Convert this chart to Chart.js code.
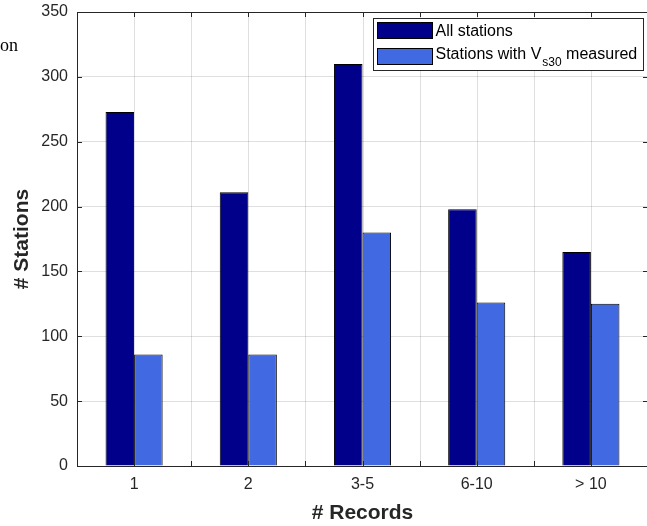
<!DOCTYPE html>
<html>
<head>
<meta charset="utf-8">
<script src="https://cdn.jsdelivr.net/npm/chart.js@4"></script>
<style>
  html, body { margin: 0; padding: 0; background: #fff; overflow: hidden; }
  #wrap { position: relative; width: 660px; height: 526px; }
</style>
</head>
<body>
<div id="wrap"><canvas id="chart" width="660" height="526"></canvas></div>
<script>
// data
const categories = ['1', '2', '3-5', '6-10', '> 10'];
const allStations = [273, 211, 310, 198, 165];
const vs30Stations = [86, 86, 180, 126, 125];
const yMin = 0;
const yMax = 350;
const yStep = 50;

const axisColor = '#262626';
const gridColor = 'rgba(38, 38, 38, 0.15)';
const tickFont = { family: 'Arial, "Liberation Sans", sans-serif', size: 16 };

// MATLAB-style box, inward ticks, extra grid lines, legend and axis titles
const matlabFrame = {
  id: 'matlabFrame',
  beforeDatasetsDraw(chart) {
    const { ctx, chartArea: a, scales: { x } } = chart;
    ctx.save();
    ctx.strokeStyle = gridColor;
    ctx.lineWidth = 1;
    xTickPositions(x).forEach(px => {
      ctx.beginPath();
      ctx.moveTo(Math.round(px) + 0.5, a.top);
      ctx.lineTo(Math.round(px) + 0.5, a.bottom);
      ctx.stroke();
    });
    ctx.restore();
  },
  afterDatasetsDraw(chart) {
    const { ctx, chartArea: a, scales: { x, y } } = chart;
    const tl = 5;
    ctx.save();
    ctx.strokeStyle = axisColor;
    ctx.lineWidth = 1;
    ctx.strokeRect(a.left + 0.5, a.top + 0.5, a.right - a.left, a.bottom - a.top);

    // inward tick marks
    ctx.beginPath();
    for (let v = yMin; v <= yMax; v += yStep) {
      const py = Math.round(y.getPixelForValue(v)) + 0.5;
      ctx.moveTo(a.left, py); ctx.lineTo(a.left + tl, py);
      ctx.moveTo(a.right, py); ctx.lineTo(a.right - tl, py);
    }
    xTickPositions(x).forEach(px => {
      const p = Math.round(px) + 0.5;
      ctx.moveTo(p, a.bottom); ctx.lineTo(p, a.bottom - tl);
      ctx.moveTo(p, a.top); ctx.lineTo(p, a.top + tl);
    });
    ctx.stroke();

    // legend
    const lx = 373.5, ly = 18.5;
    ctx.fillStyle = '#fff';
    ctx.fillRect(lx, ly, 270, 52);
    ctx.strokeRect(lx, ly, 270, 52);
    const ds = chart.data.datasets;
    const rows = [ly + 4, ly + 30];
    ctx.textBaseline = 'middle';
    ctx.textAlign = 'left';
    rows.forEach((ry, i) => {
      ctx.fillStyle = ds[i].backgroundColor;
      ctx.fillRect(lx + 4, ry, 55, 16);
      ctx.strokeStyle = '#000';
      ctx.strokeRect(lx + 4, ry, 55, 16);
    });
    ctx.fillStyle = '#000';
    ctx.font = '16px Arial, "Liberation Sans", sans-serif';
    ctx.fillText('All stations', lx + 62, rows[0] + 9);
    let tx = lx + 62;
    const part1 = 'Stations with V';
    ctx.fillText(part1, tx, rows[1] + 6);
    tx += ctx.measureText(part1).width + 1;
    ctx.font = '12px Arial, "Liberation Sans", sans-serif';
    ctx.fillText('s30', tx, rows[1] + 14);
    tx += ctx.measureText('s30').width;
    ctx.font = '16px Arial, "Liberation Sans", sans-serif';
    ctx.fillText(' measured', tx, rows[1] + 6);

    // axis titles
    ctx.fillStyle = axisColor;
    ctx.font = 'bold 21px Arial, "Liberation Sans", sans-serif';
    ctx.textAlign = 'center';
    ctx.fillText('# Records', (a.left + a.right) / 2, 513);
    ctx.save();
    ctx.translate(22, (a.top + a.bottom) / 2);
    ctx.rotate(-Math.PI / 2);
    ctx.fillText('# Stations', 0, 0);
    ctx.restore();

    // clipped fragment of neighbouring text in the source figure
    ctx.fillStyle = '#000';
    ctx.textAlign = 'left';
    ctx.textBaseline = 'alphabetic';
    ctx.font = '18px "Times New Roman", "Liberation Serif", serif';
    ctx.fillText('on', 0, 51);
    ctx.restore();
  }
};

function xTickPositions(x) {
  const out = [];
  categories.forEach((c, i) => {
    const px = x.getPixelForValue(i);
    out.push(px);
    if (i > 0) out.push((px + x.getPixelForValue(i - 1)) / 2);
  });
  return out;
}

new Chart(document.getElementById('chart'), {
  type: 'bar',
  data: {
    labels: categories,
    datasets: [
      {
        label: 'All stations',
        data: allStations,
        backgroundColor: '#00008B',
        borderColor: '#000',
        borderWidth: 1,
        categoryPercentage: 0.5,
        barPercentage: 1.0
      },
      {
        label: 'Stations with Vs30 measured',
        data: vs30Stations,
        backgroundColor: '#4169E1',
        borderColor: '#000',
        borderWidth: 1,
        categoryPercentage: 0.5,
        barPercentage: 1.0
      }
    ]
  },
  options: {
    responsive: false,
    devicePixelRatio: 1,
    animation: false,
    layout: { padding: { top: 12, right: 12, left: 0, bottom: 0 } },
    plugins: {
      legend: { display: false },
      tooltip: { enabled: false }
    },
    scales: {
      x: {
        offset: true,
        grid: { display: false, drawTicks: false },
        border: { display: false },
        ticks: { font: tickFont, color: axisColor, padding: 9, maxRotation: 0 },
        afterFit: s => { s.height = 60; s.paddingLeft = 0; s.paddingRight = 0; }
      },
      y: {
        min: yMin,
        max: yMax,
        grid: { color: gridColor, drawTicks: false },
        border: { display: false },
        ticks: { stepSize: yStep, font: tickFont, color: axisColor, padding: 9 },
        afterFit: s => { s.width = 77; s.paddingTop = 0; s.paddingBottom = 0; }
      }
    }
  },
  plugins: [matlabFrame]
});
</script>
</body>
</html>
